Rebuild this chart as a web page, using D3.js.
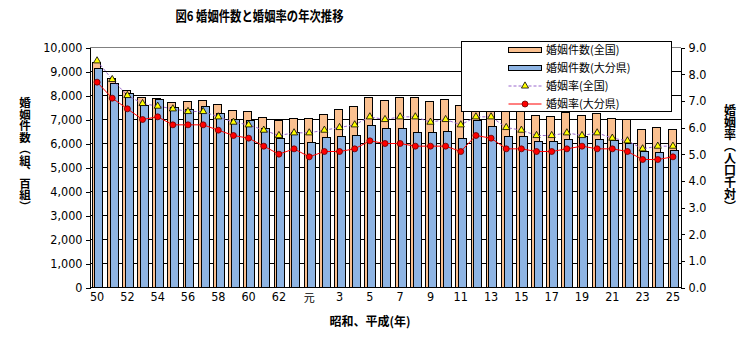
<!DOCTYPE html>
<html><head><meta charset="utf-8">
<script src="https://cdn.jsdelivr.net/npm/d3@7/dist/d3.min.js"></script>
<style>
body{margin:0;background:#fff;}
svg{display:block;}
.num{font-family:"Liberation Sans Narrow","DejaVu Sans Condensed","Liberation Sans",sans-serif;font-size:12.5px;fill:#000;}
.jp{font-family:"Noto Sans CJK JP","Noto Sans",sans-serif;fill:#000;}
</style></head>
<body><svg id="c" width="756" height="341"></svg>
<script>
const categories = ["50","51","52","53","54","55","56","57","58","59","60","61","62","63",
  "元","2","3","4","5","6","7","8","9","10","11","12","13","14","15","16","17","18","19","20","21","22","23","24","25"];
// 婚姻件数(全国) 百組
const nationalCount = [9416,8715,8210,7933,7885,7747,7765,7813,7626,7400,7359,7110,6962,7077,
  7083,7221,7423,7544,7927,7827,7919,7951,7757,7846,7620,7981,8000,7573,7402,7204,7143,7310,7198,7261,7077,7002,6619,6689,6606];
// 婚姻件数(大分県) 組
const oitaCount = [9130,8510,8090,7600,7840,7510,7450,7550,7260,7010,6970,6630,6220,6470,
  6050,6260,6300,6340,6760,6630,6630,6470,6470,6510,6220,6970,6720,6300,6300,6090,6090,6180,6300,6180,6130,6010,5680,5630,5720];
// 婚姻率(全国)
const nationalRate = [8.5,7.8,7.2,6.9,6.8,6.7,6.6,6.6,6.4,6.2,6.1,5.9,5.7,5.8,
  5.8,5.9,6.0,6.1,6.4,6.3,6.4,6.4,6.2,6.3,6.1,6.4,6.4,6.0,5.9,5.7,5.7,5.8,5.7,5.8,5.6,5.5,5.2,5.3,5.3];
// 婚姻率(大分県)
const oitaRate = [7.7,7.1,6.7,6.3,6.4,6.1,6.1,6.1,5.9,5.7,5.6,5.3,5.0,5.2,
  4.9,5.1,5.1,5.2,5.5,5.4,5.4,5.3,5.3,5.3,5.1,5.7,5.6,5.2,5.2,5.1,5.1,5.2,5.3,5.2,5.2,5.1,4.8,4.8,4.9];
const leftTicks = [0,1000,2000,3000,4000,5000,6000,7000,8000,9000,10000];
const rightTicks = [0,1,2,3,4,5,6,7,8,9];
const seriesNames = ["婚姻件数(全国)","婚姻件数(大分県)","婚姻率(全国)","婚姻率(大分県)"];

const svg = d3.select("#c");
const L = 89.5, R = 680.5, T = 47.5, B = 287.5;
const x = d3.scaleBand().domain(d3.range(categories.length)).range([L, R]).padding(0);
const bw = x.bandwidth();
const cx = i => x(i) + bw/2;
const yL = d3.scaleLinear().domain([0,10000]).range([B,T]);
const yR = d3.scaleLinear().domain([0,9]).range([B,T]);

const cOrange = "#FAC090", cBlue = "#8EB4E3", cPurple = "#9966CC", cRed = "#FF0000";

// gridlines
const g = svg.append("g").attr("shape-rendering","crispEdges");
g.selectAll("line.grid").data(leftTicks.filter(d=>d>0)).join("line")
  .attr("x1",L).attr("x2",R).attr("y1",d=>yL(d)).attr("y2",d=>yL(d))
  .attr("stroke",d=>d===10000?"#808080":"#000").attr("stroke-width",1);

// bars
const barW = bw*0.527;
g.selectAll("rect.o").data(nationalCount).join("rect")
  .attr("x",(d,i)=>Math.round(cx(i)-bw*0.353)+0.5).attr("width",Math.round(barW))
  .attr("y",d=>Math.round(yL(d))+0.5).attr("height",d=>B-Math.round(yL(d))-0.5)
  .attr("fill",cOrange).attr("stroke","#000").attr("stroke-width",1);
g.selectAll("rect.b").data(oitaCount).join("rect")
  .attr("x",(d,i)=>Math.round(cx(i)-bw*0.175)+0.5).attr("width",Math.round(barW))
  .attr("y",d=>Math.round(yL(d))+0.5).attr("height",d=>B-Math.round(yL(d))-0.5)
  .attr("fill",cBlue).attr("stroke","#000").attr("stroke-width",1);

// axes
const axL = svg.append("g").attr("transform",`translate(${L},0)`)
  .call(d3.axisLeft(yL).tickValues(leftTicks).tickSize(4).tickPadding(3).tickFormat(d3.format(",")));
const axR = svg.append("g").attr("transform",`translate(${R},0)`)
  .call(d3.axisRight(yR).tickValues(rightTicks).tickSize(4).tickPadding(4).tickFormat(d3.format(".1f")));
const axB = svg.append("g").attr("transform",`translate(0,${B})`)
  .call(d3.axisBottom(x).tickValues(d3.range(0,categories.length,2)).tickSize(0).tickPadding(5).tickFormat(i=>categories[i]));
[axL,axR,axB].forEach(a=>{
  a.selectAll("path").attr("stroke","#000").attr("shape-rendering","crispEdges");
  a.selectAll("line").attr("stroke","#000").attr("shape-rendering","crispEdges");
  a.selectAll("text").attr("class","num").attr("fill","#000").style("font-size","12.5px")
   .style("font-family",'"Liberation Sans Narrow","DejaVu Sans Condensed","Liberation Sans",sans-serif');
});
axB.select("path").remove();
svg.append("line").attr("x1",L).attr("x2",R).attr("y1",B).attr("y2",B).attr("stroke","#000").attr("shape-rendering","crispEdges");
axB.selectAll("text").filter(i=>categories[i]==="元").style("font-family",'"Noto Sans CJK JP",sans-serif').style("font-size","11px").attr("dy","0.9em");

// lines
const lineN = d3.line().x((d,i)=>cx(i)).y(d=>yR(d));
svg.append("path").datum(nationalRate).attr("d",lineN).attr("fill","none")
  .attr("stroke",cPurple).attr("stroke-width",1).attr("stroke-dasharray","3,2");
svg.append("path").datum(oitaRate).attr("d",lineN).attr("fill","none")
  .attr("stroke",cRed).attr("stroke-width",1);
const tri = d3.symbol().type(d3.symbolTriangle).size(22);
svg.selectAll("path.tri").data(nationalRate).join("path")
  .attr("d",tri).attr("transform",(d,i)=>`translate(${cx(i)},${yR(d)})`)
  .attr("fill","#FFFF00").attr("stroke","#000").attr("stroke-width",0.8);
svg.selectAll("circle.dot").data(oitaRate).join("circle")
  .attr("cx",(d,i)=>cx(i)).attr("cy",d=>yR(d)).attr("r",3)
  .attr("fill",cRed).attr("stroke","#600").attr("stroke-width",0.8);

// legend
const lg = svg.append("g");
lg.append("rect").attr("x",461.5).attr("y",41.5).attr("width",210).attr("height",70)
  .attr("fill","#fff").attr("stroke","#000").attr("shape-rendering","crispEdges");
const ly = [50,68,86,104];
const sx0 = 508.5, sx1 = 541.5;
lg.append("rect").attr("x",sx0).attr("y",ly[0]-2.5).attr("width",sx1-sx0).attr("height",5)
  .attr("fill",cOrange).attr("stroke","#000").attr("shape-rendering","crispEdges");
lg.append("rect").attr("x",sx0).attr("y",ly[1]-2.5).attr("width",sx1-sx0).attr("height",5)
  .attr("fill",cBlue).attr("stroke","#000").attr("shape-rendering","crispEdges");
lg.append("line").attr("x1",sx0).attr("x2",sx1).attr("y1",ly[2]).attr("y2",ly[2])
  .attr("stroke",cPurple).attr("stroke-dasharray","3,2");
lg.append("path").attr("d",tri).attr("transform",`translate(${(sx0+sx1)/2},${ly[2]})`)
  .attr("fill","#FFFF00").attr("stroke","#000").attr("stroke-width",0.8);
lg.append("line").attr("x1",sx0).attr("x2",sx1).attr("y1",ly[3]).attr("y2",ly[3]).attr("stroke",cRed);
lg.append("circle").attr("cx",(sx0+sx1)/2).attr("cy",ly[3]).attr("r",3)
  .attr("fill",cRed).attr("stroke","#600").attr("stroke-width",0.8);
lg.selectAll("text").data(seriesNames).join("text").attr("class","jp")
  .attr("x",546).attr("y",(d,i)=>ly[i]).attr("dy","0.36em").style("font-size","11px").text(d=>d);

// titles
svg.append("text").attr("class","jp").attr("x",259.5).attr("y",20.5).attr("text-anchor","middle")
  .style("font-size","13.5px").style("font-weight","bold")
  .attr("textLength",168).attr("lengthAdjust","spacingAndGlyphs").text("図6 婚姻件数と婚姻率の年次推移");
svg.append("text").attr("class","jp").attr("x",370).attr("y",326).attr("text-anchor","middle")
  .style("font-size","12px").style("font-weight","bold").text("昭和、平成(年)");
svg.append("text").attr("class","jp").attr("x",25).attr("y",97)
  .style("writing-mode","vertical-rl").style("font-size","11.5px").style("font-weight","bold")
  .text("婚姻件数（組、百組）");
svg.append("text").attr("class","jp").attr("x",730).attr("y",104)
  .style("writing-mode","vertical-rl").style("font-size","12px").style("font-weight","bold")
  .text("婚姻率（人口千対）");
</script></body></html>
